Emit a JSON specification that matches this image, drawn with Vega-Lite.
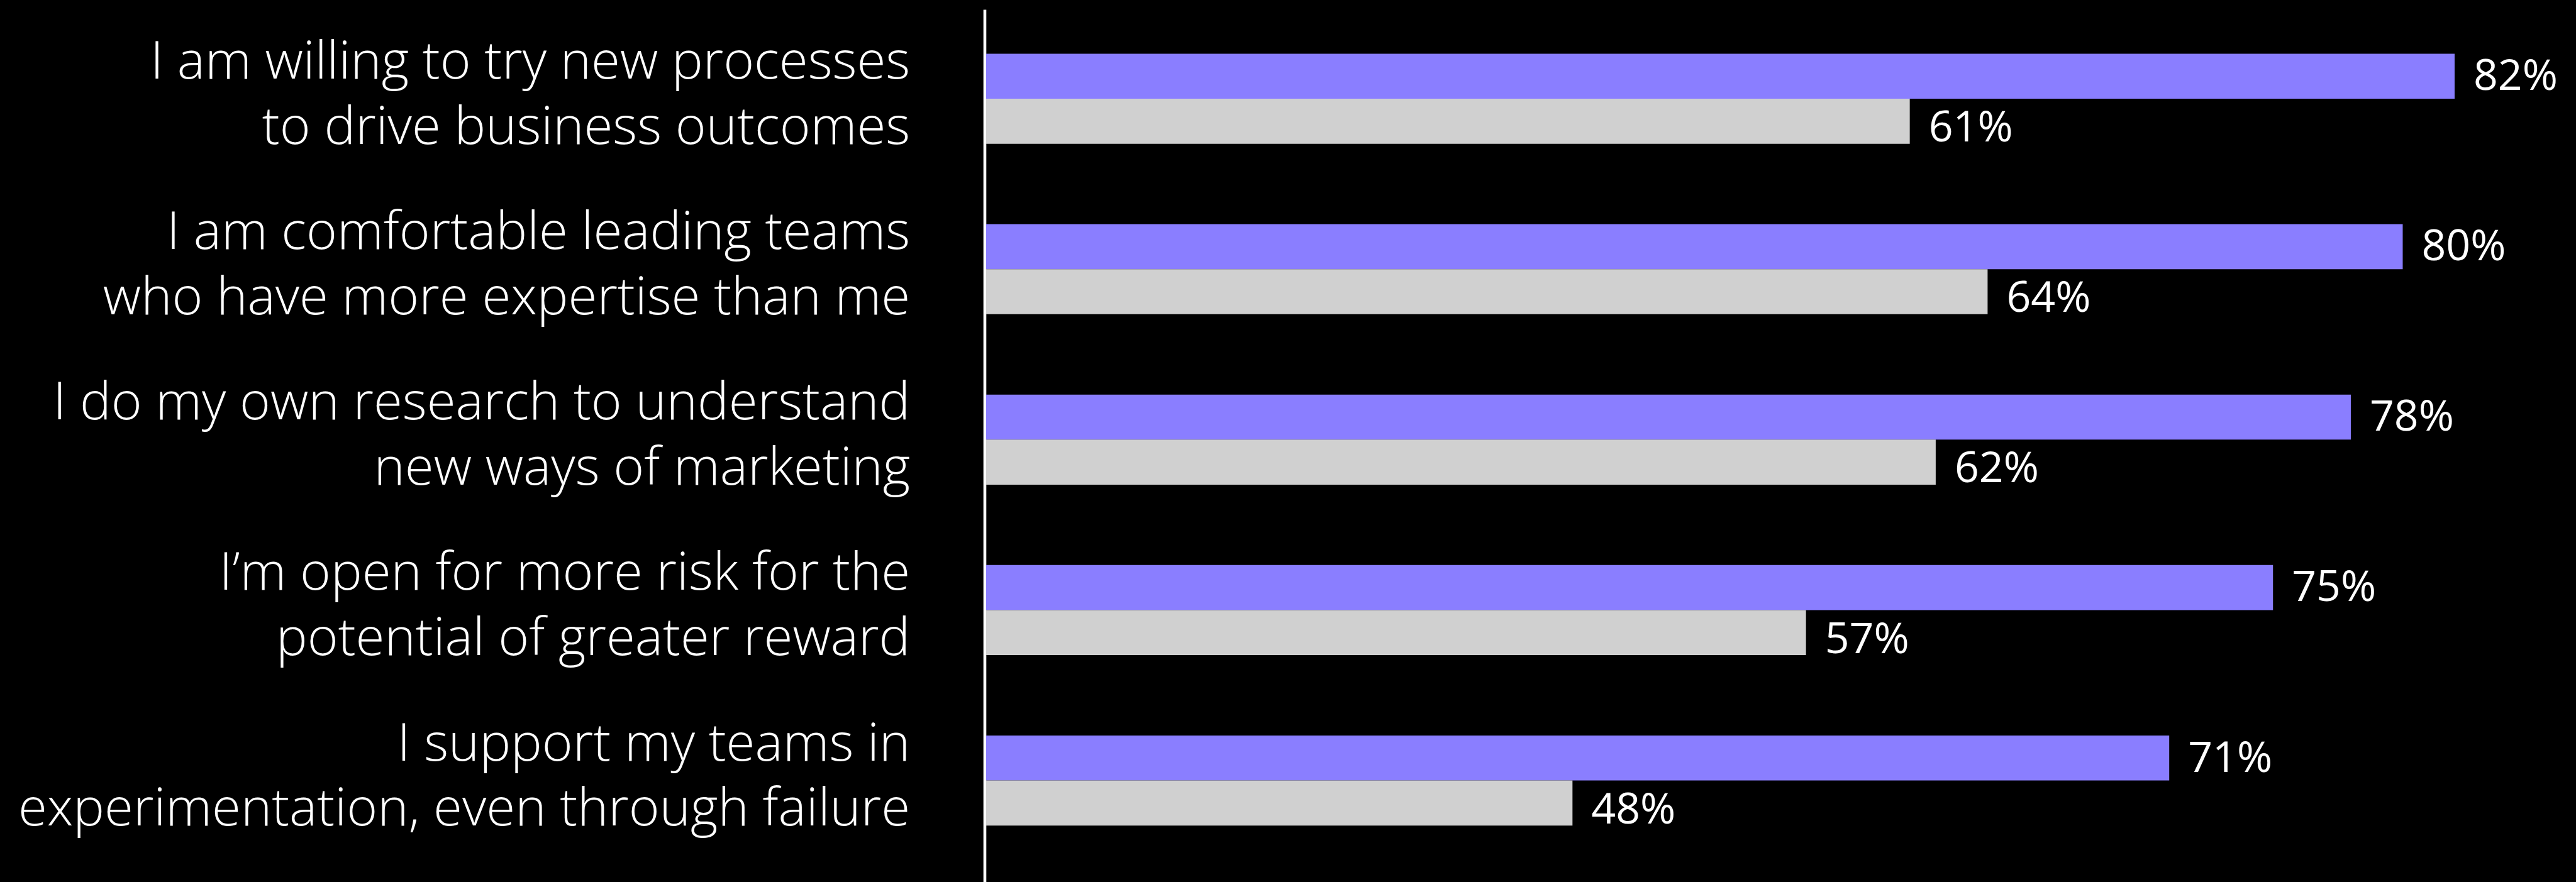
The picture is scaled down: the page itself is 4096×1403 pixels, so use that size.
{
  "$schema": "https://vega.github.io/schema/vega-lite/v6.json",
  "autosize": {"type": "none"},
  "background": "#000000",
  "padding": {"left": 1568, "top": 15, "right": 28, "bottom": 0},
  "width": 2500,
  "height": 1388,
  "data": {
    "values": [
      {"statement": "I am willing to try new processes|to drive business outcomes", "group": "Leaders", "value": 0.82},
      {"statement": "I am willing to try new processes|to drive business outcomes", "group": "Others", "value": 0.61},
      {"statement": "I am comfortable leading teams|who have more expertise than me", "group": "Leaders", "value": 0.80},
      {"statement": "I am comfortable leading teams|who have more expertise than me", "group": "Others", "value": 0.64},
      {"statement": "I do my own research to understand|new ways of marketing", "group": "Leaders", "value": 0.78},
      {"statement": "I do my own research to understand|new ways of marketing", "group": "Others", "value": 0.62},
      {"statement": "I’m open for more risk for the|potential of greater reward", "group": "Leaders", "value": 0.75},
      {"statement": "I’m open for more risk for the|potential of greater reward", "group": "Others", "value": 0.57},
      {"statement": "I support my teams in|experimentation, even through failure", "group": "Leaders", "value": 0.71},
      {"statement": "I support my teams in|experimentation, even through failure", "group": "Others", "value": 0.48}
    ]
  },
  "encoding": {
    "y": {
      "field": "statement",
      "type": "nominal",
      "sort": null,
      "scale": {"paddingInner": 0, "paddingOuter": 0.0595, "align": 0.2},
      "axis": {
        "title": null,
        "domain": true,
        "domainColor": "#ffffff",
        "domainWidth": 4.6,
        "offset": 2.5,
        "ticks": false,
        "tickSize": 0,
        "grid": false,
        "labelPadding": 118.8,
        "labelFont": "Open Sans",
        "labelFontWeight": 300,
        "labelFontSize": 83.5,
        "labelColor": "#ffffff",
        "labelAlign": "right",
        "labelBaseline": "alphabetic",
        "labelLineHeight": 103.5,
        "labelOffset": -32,
        "labelLimit": 3000,
        "labelExpr": "split(datum.label, '|')"
      }
    },
    "yOffset": {
      "field": "group",
      "type": "nominal",
      "sort": ["Leaders", "Others"],
      "scale": {"paddingInner": 0, "paddingOuter": 0.8935}
    },
    "x": {
      "field": "value",
      "type": "quantitative",
      "scale": {"domain": [0.254, 0.86], "zero": false, "nice": false},
      "axis": null
    }
  },
  "layer": [
    {
      "mark": {"type": "bar"},
      "encoding": {
        "x2": {"datum": 0.254},
        "color": {
          "field": "group",
          "type": "nominal",
          "scale": {"domain": ["Leaders", "Others"], "range": ["#8A7EFF", "#D0D0D0"]},
          "legend": null
        }
      }
    },
    {
      "transform": [{"filter": "datum.group === 'Leaders'"}],
      "mark": {"type": "text", "align": "left", "baseline": "alphabetic", "dx": 30, "dy": 21.7, "font": "Open Sans", "fontSize": 68, "fontWeight": 400, "color": "#ffffff"},
      "encoding": {
        "text": {"field": "value", "type": "quantitative", "format": ".0%"}
      }
    },
    {
      "transform": [{"filter": "datum.group === 'Others'"}],
      "mark": {"type": "text", "align": "left", "baseline": "alphabetic", "dx": 30, "dy": 32.3, "font": "Open Sans", "fontSize": 68, "fontWeight": 400, "color": "#ffffff"},
      "encoding": {
        "text": {"field": "value", "type": "quantitative", "format": ".0%"}
      }
    }
  ],
  "config": {
    "view": {"stroke": null}
  }
}
